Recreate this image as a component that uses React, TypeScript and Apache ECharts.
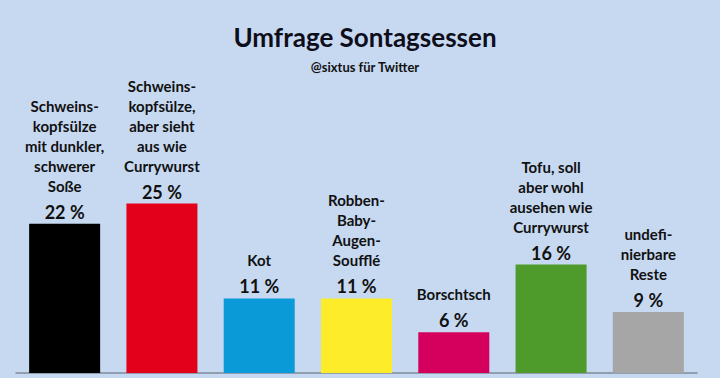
import React, { useEffect, useRef } from "react";
import * as echarts from "echarts";

const categories: string[][] = [
  ["Schweins-", "kopfsülze", "mit dunkler,", "schwerer", "Soße"],
  ["Schweins-", "kopfsülze,", "aber sieht", "aus wie", "Currywurst"],
  ["Kot"],
  ["Robben-", "Baby-", "Augen-", "Soufflé"],
  ["Borschtsch"],
  ["Tofu, soll", "aber wohl", "ausehen wie", "Currywurst"],
  ["undefi-", "nierbare", "Reste"],
];
const values: number[] = [22, 25, 11, 11, 6, 16, 9];
const colors: string[] = ["#000000", "#E2001A", "#0A9AD8", "#FCEC2A", "#D5005E", "#4E9A2B", "#A6A6A6"];
const titleText = "Umfrage Sontagsessen";
const subtitleText = "@sixtus für Twitter";

const FONT = "Lato, 'Open Sans', sans-serif";

export default function App() {
  const ref = useRef<HTMLDivElement>(null);
  useEffect(() => {
    if (!ref.current) return;
    const chart = echarts.init(ref.current, undefined, { renderer: "svg" });
    chart.setOption({
      animation: false,
      backgroundColor: "#C7D9F1",
      grid: { left: 16, right: 23, top: 34, bottom: 5, containLabel: false },
      xAxis: {
        type: "category",
        data: categories.map((c) => c.join(" ")),
        axisLabel: { show: false },
        axisTick: { show: false },
        axisLine: { show: true, lineStyle: { color: "#7F8A9A", width: 1.5 } },
      },
      yAxis: {
        type: "value",
        min: 0,
        max: 50,
        show: false,
        splitLine: { show: false },
      },
      graphic: [
        {
          type: "text",
          x: 365,
          y: 37,
          style: {
            text: titleText,
            font: `bold 26px ${FONT}`,
            fill: "#0E0E1A",
            textAlign: "center",
            textVerticalAlign: "middle",
          },
        },
        {
          type: "text",
          x: 365,
          y: 67,
          style: {
            text: subtitleText,
            font: `bold 13px ${FONT}`,
            fill: "#111111",
            textAlign: "center",
            textVerticalAlign: "middle",
          },
        },
      ],
      series: [
        {
          type: "bar",
          barWidth: "73%",
          data: values.map((v, i) => ({ value: v, itemStyle: { color: colors[i] } })),
          label: {
            show: true,
            position: "top",
            distance: -4,
            formatter: (p: any) =>
              categories[p.dataIndex].map((l) => `{n|${l}}`).join("\n") + `\n{v|${p.value} %}`,
            rich: {
              n: { fontSize: 15, fontWeight: "bold", lineHeight: 20, color: "#111111", fontFamily: FONT, align: "center" },
              v: { fontSize: 18, fontWeight: "bold", lineHeight: 32, color: "#111111", fontFamily: FONT, align: "center" },
            },
          },
        },
      ],
    });
    return () => chart.dispose();
  }, []);
  return (
    <div
      ref={ref}
      style={{ position: "fixed", left: 0, top: 0, width: 720, height: 378 }}
    />
  );
}
